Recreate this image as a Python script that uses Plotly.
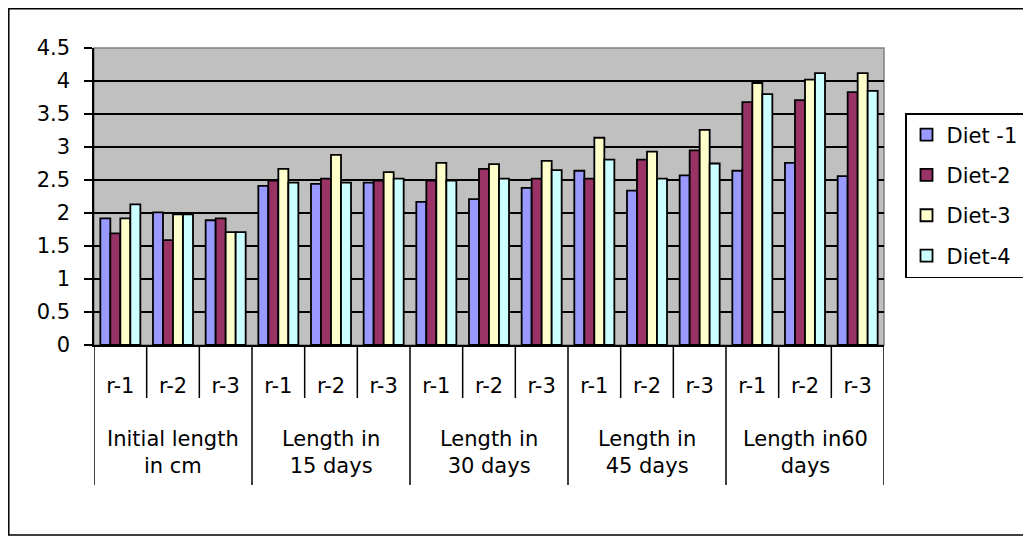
import plotly.graph_objects as go

groups = ["Initial length<br>in cm", "Length in<br>15 days", "Length in<br>30 days",
          "Length in<br>45 days", "Length in60<br>days"]
reps = ["r-1", "r-2", "r-3"]
series_names = ["Diet -1", "Diet-2", "Diet-3", "Diet-4"]

diet1 = [1.92, 2.01, 1.89, 2.41, 2.44, 2.46, 2.17, 2.21, 2.38, 2.64, 2.34, 2.57, 2.64, 2.76, 2.56]
diet2 = [1.69, 1.59, 1.92, 2.49, 2.52, 2.49, 2.49, 2.67, 2.52, 2.52, 2.81, 2.95, 3.68, 3.71, 3.83]
diet3 = [1.92, 1.98, 1.71, 2.67, 2.88, 2.62, 2.76, 2.74, 2.79, 3.14, 2.93, 3.26, 3.97, 4.02, 4.12]
diet4 = [2.13, 1.98, 1.71, 2.46, 2.46, 2.52, 2.49, 2.52, 2.65, 2.81, 2.52, 2.75, 3.80, 4.12, 3.85]
colors = ["#9999FF", "#993366", "#FFFFCC", "#CCFFFF"]

n_rep = len(reps)
n_cat = len(groups) * n_rep
xpos = list(range(n_cat))
tick_text = [reps[i % n_rep] for i in xpos]
group_centers = [g * n_rep + (n_rep - 1) / 2 for g in range(len(groups))]

# page body has an 8px margin: work in screen pixels and offset the figure
OFF = 8
SW, SH = 1031, 542
W, H = SW - OFF, SH - OFF
L, R, T, B = 94, 884, 48, 345          # plot area in screen pixels
pw, ph = R - L, B - T

def px_x(x):
    return (x - L) / pw

def px_y(y):
    return 1 - (y - T) / ph

FONT = "DejaVu Sans"
font = dict(family=FONT, size=21, color="black")

fig = go.Figure()
for i, (name, vals) in enumerate(zip(series_names, [diet1, diet2, diet3, diet4])):
    fig.add_trace(go.Bar(
        x=xpos, y=vals, name=name, legendgroup=name,
        marker=dict(color=colors[i], line=dict(color="black", width=1.8)),
    ))

shapes = [
    dict(type="rect", xref="paper", yref="paper", x0=0, x1=1, y0=0, y1=1,
         line=dict(color="#808080", width=1.5), layer="below"),
    dict(type="rect", xref="paper", yref="paper", x0=px_x(8.8), x1=px_x(1029),
         y0=px_y(535), y1=px_y(8.8), line=dict(color="black", width=1.5), layer="below"),
]
for k in range(n_cat + 1):
    long_line = (k % n_rep == 0)
    shapes.append(dict(type="line", xref="x", yref="paper", x0=k - 0.5, x1=k - 0.5,
                       y0=0, y1=px_y(485 if long_line else 398),
                       line=dict(color="black", width=1.5)))

annotations = [
    dict(x=c, y=px_y(452), xref="x", yref="paper", text=g, showarrow=False,
         xanchor="center", yanchor="middle", font=font)
    for c, g in zip(group_centers, groups)
]

fig.update_layout(
    width=W, height=H,
    margin=dict(l=L - OFF, r=W - (R - OFF), t=T - OFF, b=H - (B - OFF), autoexpand=False),
    paper_bgcolor="white", plot_bgcolor="#C0C0C0",
    barmode="group", bargap=0.24, bargroupgap=0,
    font=font, showlegend=True,
    legend=dict(x=px_x(905), y=px_y(113), xanchor="left", yanchor="top",
                bgcolor="white", bordercolor="black", borderwidth=1.5,
                font=font, tracegroupgap=10, itemwidth=30,
                entrywidth=72, entrywidthmode="pixels"),
    xaxis=dict(range=[-0.5, n_cat - 0.5], tickmode="array", tickvals=xpos,
               ticktext=tick_text, ticks="", showline=True, linecolor="black",
               linewidth=1.5, showgrid=False, zeroline=False, tickfont=font,
               ticklabelstandoff=21),
    yaxis=dict(range=[0, 4.5], dtick=0.5, tick0=0, showgrid=True, gridcolor="black",
               gridwidth=1.5, showline=True, linecolor="black", linewidth=1.5,
               ticks="outside", ticklen=8, tickcolor="black", tickwidth=1.5,
               tickfont=font, zeroline=False, tickformat="~g", ticklabelstandoff=10),
    shapes=shapes,
    annotations=annotations,
)

fig.write_html("out.html")
